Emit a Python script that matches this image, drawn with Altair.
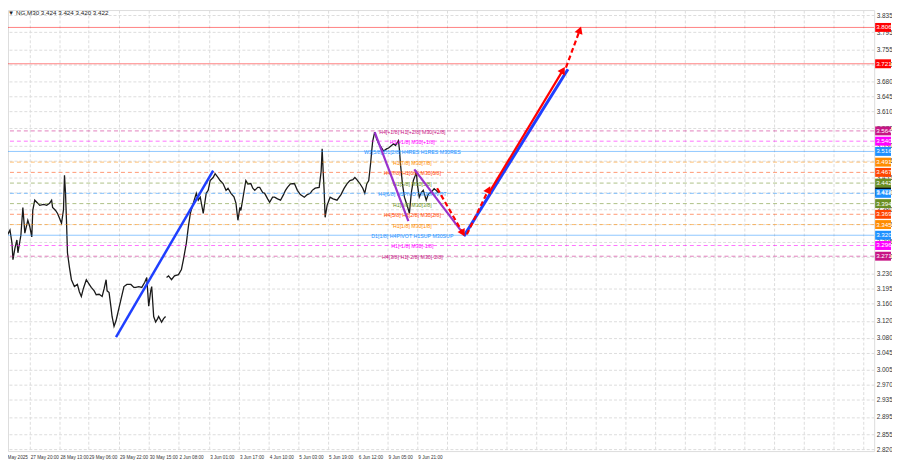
import math
import altair as alt
import pandas as pd

# ---------------- data ----------------
title_text = "NG,M30  3.424 3.424 3.420 3.422"

# price path (bar position, close) - session 1 (27 May - 30 May)
s1_bar = [0, 5, 10, 12, 13, 15, 17, 18, 21, 23, 25, 28, 30, 32, 33, 35, 38, 40, 44, 47, 50, 52, 53, 56, 58,
          60, 62, 64, 65, 66, 67, 68, 70, 72, 75, 78, 80, 82, 84, 87, 90, 92, 95, 97, 100, 103, 105, 107,
          108, 110, 112, 113, 115, 117, 118, 120, 122, 125, 128, 132, 135, 137, 140, 143, 146, 148, 150,
          152, 153, 155, 157, 159, 160, 163, 165, 167]
s1_close = [3.302, 3.310, 3.332, 3.302, 3.263, 3.290, 3.309, 3.279, 3.320, 3.385, 3.325, 3.355, 3.340, 3.316,
            3.378, 3.402, 3.395, 3.390, 3.392, 3.390, 3.395, 3.402, 3.385, 3.378, 3.371,
            3.360, 3.348, 3.380, 3.460, 3.420, 3.355, 3.279, 3.245, 3.216, 3.200, 3.205, 3.188, 3.177,
            3.195, 3.216, 3.205, 3.198, 3.190, 3.181, 3.182, 3.177, 3.195, 3.216,
            3.190, 3.186, 3.150, 3.130, 3.107, 3.120, 3.130, 3.150, 3.170, 3.200, 3.205, 3.205, 3.198,
            3.198, 3.200, 3.198, 3.210, 3.221, 3.154,
            3.190, 3.200, 3.130, 3.117, 3.125, 3.130, 3.117, 3.125, 3.130]

# session 2 (2 Jun - 9 Jun)
s2_bar = [168, 170, 173, 176, 180, 183, 185, 188, 190, 192, 195, 198, 200, 202, 205, 208, 210, 212, 215,
          217, 220, 222, 225, 228, 230, 233, 236, 238, 240, 242, 243, 246, 248, 250, 253, 255, 257, 260,
          262, 265, 267, 270, 272, 275, 277, 280, 283, 286, 288, 290, 293, 297, 300, 303, 307, 310, 313,
          315, 318, 322, 324, 325, 326, 327, 328, 330, 333, 336, 340, 344, 347, 350, 353, 356, 358, 360,
          363, 366, 368, 370, 372, 374, 375, 376, 378, 380, 382, 384, 387, 390, 392, 395, 397, 399, 402,
          403, 404, 406, 408, 410, 412, 413, 415, 417, 419, 420, 421, 423, 425, 427, 429, 430, 432, 433,
          435, 438, 440, 442, 444]
s2_close = [3.221, 3.225, 3.216, 3.225, 3.228, 3.240, 3.263, 3.302, 3.340, 3.371, 3.395, 3.418, 3.402,
            3.409, 3.371, 3.418, 3.425, 3.448, 3.455,
            3.464, 3.455, 3.448, 3.441, 3.425, 3.430, 3.418, 3.410, 3.395, 3.355, 3.385, 3.378, 3.420,
            3.448, 3.440, 3.441, 3.430, 3.425, 3.432,
            3.432, 3.420, 3.418, 3.405, 3.397, 3.409, 3.409, 3.405, 3.402, 3.415, 3.425, 3.432, 3.440,
            3.441, 3.425, 3.415, 3.409, 3.415, 3.418,
            3.425, 3.430, 3.432, 3.470, 3.522, 3.470, 3.425, 3.362, 3.390, 3.409, 3.405, 3.402, 3.415,
            3.429, 3.440, 3.448, 3.450, 3.455, 3.450,
            3.441, 3.430, 3.418, 3.440, 3.448, 3.490, 3.517, 3.540, 3.561, 3.545, 3.534, 3.528, 3.517,
            3.522, 3.524, 3.530, 3.534, 3.530, 3.541,
            3.520, 3.487, 3.440, 3.409, 3.395, 3.380, 3.371, 3.420, 3.448, 3.460, 3.471, 3.440, 3.409,
            3.420, 3.425, 3.410, 3.402, 3.415, 3.418,
            3.420, 3.429, 3.425, 3.420, 3.422]

# horizontal levels
level_price = [3.806, 3.721, 3.564, 3.540, 3.516, 3.491, 3.467, 3.442, 3.418, 3.394, 3.369, 3.345,
               3.320, 3.296, 3.271]
level_color = ["#ff0000", "#ff0000", "#c71585", "#ff00ff", "#1e90ff", "#ff8c00", "#ff4500", "#6b8e23",
               "#1e90ff", "#6b8e23", "#ff4500", "#ff8c00", "#1e90ff", "#ff00ff", "#c71585"]
level_solid = [True, True, False, False, True, False, False, False, False, False, False, False,
               True, False, False]
level_text = ["", "",
              "H4[+1/8] H1[+2/8] M30[+2/8]",
              "H1[+1/8] M30[+1/8]",
              "W1[5/8] D1[2/8] H4RES H1RES M30RES",
              "H1[7/8] M30[7/8]",
              "H4[7/8] H1[6/8] M30[6/8]",
              "H1[5/8] M30[5/8]",
              "H4[6/8] H1PIVOT M30PIVOT",
              "H1[3/8] M30[3/8]",
              "H4[5/8] H1[2/8] M30[2/8]",
              "H1[1/8] M30[1/8]",
              "D1[1/8] H4PIVOT H1SUP M30SUP",
              "H1[-1/8] M30[-1/8]",
              "H4[3/8] H1[-2/8] M30[-2/8]"]

current_price = 3.422
current_color = "#000000"

# axes
ytick_values = [2.820, 2.855, 2.895, 2.935, 2.970, 3.005, 3.045, 3.080, 3.120, 3.160, 3.195, 3.230,
                3.270, 3.305, 3.345, 3.380, 3.420, 3.455, 3.495, 3.530, 3.570, 3.610, 3.645, 3.680,
                3.720, 3.755, 3.795, 3.835]
xlab_pos = [1, 31, 61, 90, 121, 151, 181, 212, 242, 272, 302, 332, 362, 392, 422]
xlab_text = ["27 May 2025", "27 May 20:00", "28 May 13:00", "29 May 06:00", "29 May 22:00",
             "30 May 15:00", "2 Jun 08:00", "3 Jun 01:00", "3 Jun 17:00", "4 Jun 10:00",
             "5 Jun 03:00", "5 Jun 19:00", "6 Jun 12:00", "9 Jun 05:00", "9 Jun 21:00"]
xgrid_pos = [0, 30, 60, 89, 120, 150, 180, 211, 241, 271, 301, 331, 361, 391, 421, 451, 481, 511,
             541, 571, 601, 631, 661, 691, 721, 751, 781, 811, 841, 871]

# trend lines / forecast arrows
tl_x1 = [117, 378, 418, 441, 468, 471, 493, 571]
tl_p1 = [3.082, 3.561, 3.474, 3.430, 3.318, 3.322, 3.418, 3.712]
tl_x2 = [215, 412, 467, 467, 573, 493, 568, 585]
tl_p2 = [3.471, 3.353, 3.325, 3.325, 3.708, 3.427, 3.706, 3.800]
tl_color = ["#1f3fff", "#9932cc", "#9932cc", "#ff0000", "#1f3fff", "#ff0000", "#ff0000", "#ff0000"]
tl_dashed = [False, False, False, True, False, True, False, True]
tl_width = [2.5, 2.2, 2.2, 2.2, 3, 2.2, 2.2, 2.2]
tl_arrow = [False, False, False, True, False, True, True, True]

# ---------------- chart ----------------
W, H = 874, 445
XDOM = [8, 882]
YDOM = [2.8153, 3.8466]
XS = alt.Scale(domain=XDOM, nice=False, zero=False)
YS = alt.Scale(domain=YDOM, nice=False, zero=False)
px_per_price = H / (YDOM[1] - YDOM[0])
px_per_bar = W / (XDOM[1] - XDOM[0])

GRID_COLOR = "#dddddd"
AX_X = alt.Axis(values=xgrid_pos, labels=False, ticks=False, domain=False, grid=True,
                gridColor=GRID_COLOR, gridDash=[3, 2], gridWidth=1, title=None)
AX_Y = alt.Axis(orient="right", values=ytick_values, format=".3f", labelFontSize=6.5,
                labelColor="#333333", labelFont="Liberation Sans", labelPadding=2, ticks=False,
                domain=False, grid=True, gridColor=GRID_COLOR, gridDash=[3, 2], gridWidth=1, title=None,
                labelOverlap=False, labelFlush=False)


def X(field):
    return alt.X(field, scale=XS, axis=AX_X)


def Y(field):
    return alt.Y(field, scale=YS, axis=AX_Y)


price_df = pd.DataFrame({
    "bar": s1_bar + s2_bar,
    "price": s1_close + s2_close,
    "seg": ["a"] * len(s1_bar) + ["b"] * len(s2_bar),
})
lev_df = pd.DataFrame({"price": level_price, "color": level_color, "solid": level_solid,
                       "text": level_text})
lab_df = pd.DataFrame({"price": [current_price] + level_price,
                       "color": [current_color] + level_color})
lab_df["label"] = lab_df["price"].map(lambda v: f"{v:.3f}")
xlab_df = pd.DataFrame({"pos": xlab_pos, "text": xlab_text})

solid_lv = alt.Chart(lev_df).transform_filter("datum.solid").mark_rule(strokeWidth=1, opacity=0.5).encode(
    y=Y("price:Q"), color=alt.Color("color:N", scale=None))
dash_lv = alt.Chart(lev_df).transform_filter("!datum.solid").mark_rule(
    strokeWidth=1, opacity=0.55, strokeDash=[4, 3]).encode(
    y=Y("price:Q"), color=alt.Color("color:N", scale=None))

lv_text = alt.Chart(lev_df).transform_filter("datum.text != ''").mark_text(
    fontSize=5.3, font="Liberation Sans", align="center", baseline="middle", dy=1).encode(
    x=alt.value(416 - XDOM[0]), y=Y("price:Q"),
    color=alt.Color("color:N", scale=None), text="text:N")

price_line = alt.Chart(price_df).mark_line(color="#1a1a1a", strokeWidth=1.3, clip=True).encode(
    x=X("bar:Q"), y=Y("price:Q"), detail="seg:N")

layers = [price_line, solid_lv, dash_lv, lv_text]

arrow_rows = []
for i in range(len(tl_x1)):
    d = pd.DataFrame({"x1": [tl_x1[i]], "p1": [tl_p1[i]], "x2": [tl_x2[i]], "p2": [tl_p2[i]]})
    kw = dict(color=tl_color[i], strokeWidth=tl_width[i], clip=True)
    if tl_dashed[i]:
        kw["strokeDash"] = [5, 3]
    layers.append(alt.Chart(d).mark_rule(**kw).encode(
        x=X("x1:Q"), y=Y("p1:Q"), x2="x2:Q", y2="p2:Q"))
    if tl_arrow[i]:
        dx = (tl_x2[i] - tl_x1[i]) * px_per_bar
        dy = (tl_p2[i] - tl_p1[i]) * px_per_price
        ang = math.degrees(math.atan2(dx, dy)) % 360
        arrow_rows.append({"x": tl_x2[i], "p": tl_p2[i], "ang": ang, "color": tl_color[i]})

arrow_df = pd.DataFrame(arrow_rows)
arrows = alt.Chart(arrow_df).mark_point(shape="triangle-up", filled=True, size=70, opacity=1).encode(
    x=X("x:Q"), y=Y("p:Q"), angle=alt.Angle("ang:Q", scale=None),
    color=alt.Color("color:N", scale=None))
layers.append(arrows)

# right side price labels
lab_rect = alt.Chart(lab_df).mark_rect(yOffset=-4.5, y2Offset=4.5).encode(
    x=alt.value(W + 1), x2=alt.value(W + 17), y=Y("price:Q"), y2="price:Q",
    color=alt.Color("color:N", scale=None))
lab_txt = alt.Chart(lab_df).mark_text(fontSize=6.3, font="Liberation Sans", color="white", align="left",
                                      baseline="middle").encode(
    x=alt.value(W + 2), y=Y("price:Q"), text="label:N")
layers += [lab_rect, lab_txt]

xlabels = alt.Chart(xlab_df).mark_text(fontSize=4.7, font="Liberation Sans", color="#333333",
                                       align="left", baseline="middle").encode(
    x=X("pos:Q"), y=alt.value(H + 7), text="text:N")
title_mark = alt.Chart(pd.DataFrame({"t": ["\u25bc " + title_text]})).mark_text(
    fontSize=6.3, font="Liberation Sans", color="#222222", align="left", baseline="middle").encode(
    x=alt.value(0), y=alt.value(3), text="t:N")
layers += [xlabels, title_mark]

chart = alt.layer(*layers).properties(
    width=W, height=H,
    autosize=alt.AutoSizeParams(type="none"),
    padding={"left": 0, "top": 0, "right": 18, "bottom": 15},
).configure_view(stroke="#777777", strokeWidth=1).configure(background="white")

chart.save("out.html", embed_options={"renderer": "svg", "actions": False})
